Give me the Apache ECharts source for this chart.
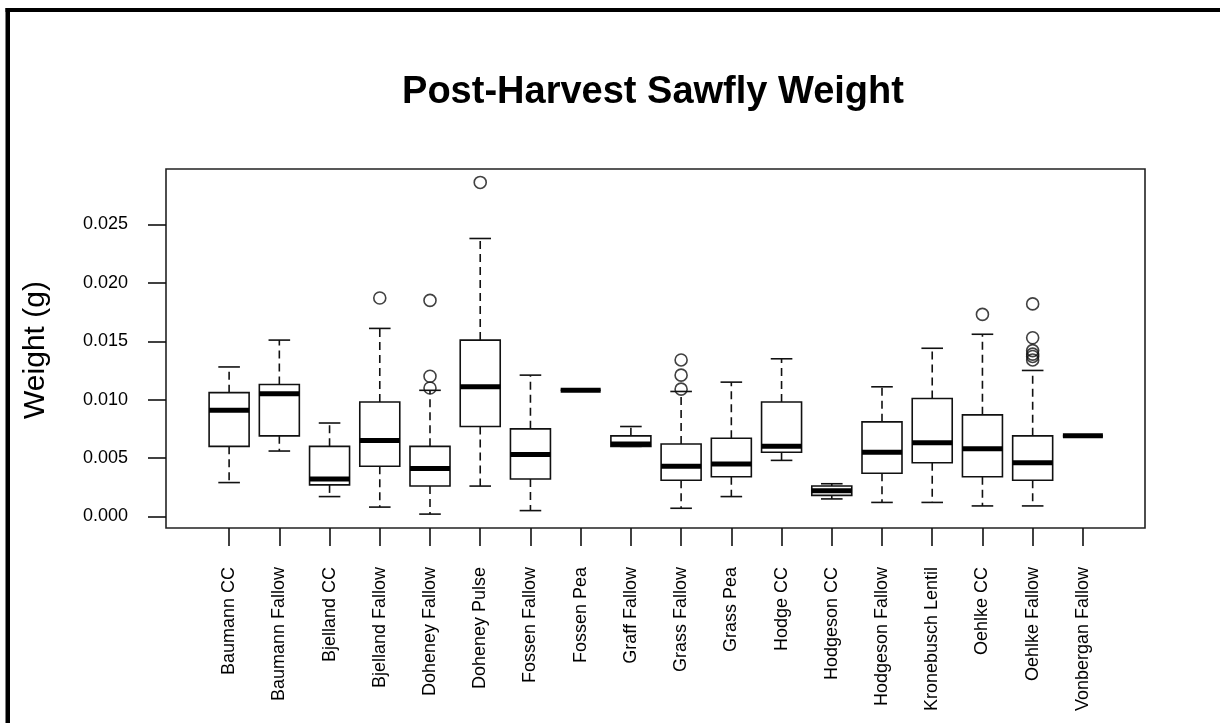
<!DOCTYPE html>
<html>
<head>
<meta charset="utf-8">
<script src="https://cdn.jsdelivr.net/npm/echarts@6/dist/echarts.min.js"></script>
<style>
html,body{margin:0;padding:0;background:#fff;}
#chart{width:1220px;height:723px;}
</style>
</head>
<body>
<div id="chart"></div>
<script>
// ---- data (grams) ----
const categories = ["Baumann CC","Baumann Fallow","Bjelland CC","Bjelland Fallow","Doheney Fallow","Doheney Pulse","Fossen Fallow","Fossen Pea","Graff Fallow","Grass Fallow","Grass Pea","Hodge CC","Hodgeson CC","Hodgeson Fallow","Kronebusch Lentil","Oehlke CC","Oehlke Fallow","Vonbergan Fallow"];
const lowWhisker  = [0.0029,0.0056,0.0017,0.0008,0.0002,0.0026,0.0005,0.0108,0.0060,0.0007,0.0017,0.0048,0.0015,0.0012,0.0012,0.0009,0.0009,0.0069];
const q1          = [0.0060,0.0069,0.0027,0.0043,0.0026,0.0077,0.0032,0.0108,0.0060,0.0031,0.0034,0.0055,0.0018,0.0037,0.0046,0.0034,0.0031,0.0069];
const median      = [0.0091,0.0105,0.0032,0.0065,0.0041,0.0111,0.0053,0.0108,0.0062,0.0043,0.0045,0.0060,0.0022,0.0055,0.0063,0.0058,0.0046,0.0069];
const q3          = [0.0106,0.0113,0.0060,0.0098,0.0060,0.0151,0.0075,0.0108,0.0069,0.0062,0.0067,0.0098,0.0026,0.0081,0.0101,0.0087,0.0069,0.0069];
const highWhisker = [0.0128,0.0151,0.0080,0.0161,0.0108,0.0238,0.0121,0.0108,0.0077,0.0107,0.0115,0.0135,0.0028,0.0111,0.0144,0.0156,0.0125,0.0069];
const outlierCategory = ["Bjelland Fallow","Doheney Fallow","Doheney Fallow","Doheney Fallow","Doheney Pulse","Grass Fallow","Grass Fallow","Grass Fallow","Oehlke CC","Oehlke Fallow","Oehlke Fallow","Oehlke Fallow","Oehlke Fallow","Oehlke Fallow","Oehlke Fallow"];
const outlierValue    = [0.0187,0.0185,0.0120,0.0110,0.0286,0.0134,0.0121,0.0109,0.0173,0.0182,0.0153,0.0142,0.0139,0.0137,0.0134];
const yTickValues = [0, 0.005, 0.010, 0.015, 0.020, 0.025];
const yMin = -0.00099, yMax = 0.02975;

const boxData = categories.map((c, i) => [i, lowWhisker[i], q1[i], median[i], q3[i], highWhisker[i]]);
const outlierData = outlierCategory.map((c, i) => [c, outlierValue[i]]);

const FONT = "'Liberation Sans', Arial, sans-serif";
const chart = echarts.init(document.getElementById('chart'), null, {renderer: 'canvas'});

function renderBox(params, api) {
  const x = api.value(0);
  const lo = api.coord([x, api.value(1)]);
  const a = api.coord([x, api.value(2)]);
  const m = api.coord([x, api.value(3)]);
  const b = api.coord([x, api.value(4)]);
  const hi = api.coord([x, api.value(5)]);
  const cx = lo[0], half = 20, cap = 10.8;
  const solid = {stroke: '#111', lineWidth: 1.6, fill: null};
  const dashed = {stroke: '#111', lineWidth: 1.6, lineDash: [8, 5], fill: null};
  return {
    type: 'group',
    children: [
      {type: 'line', shape: {x1: cx, y1: b[1], x2: cx, y2: hi[1]}, style: dashed},
      {type: 'line', shape: {x1: cx, y1: a[1], x2: cx, y2: lo[1]}, style: dashed},
      {type: 'line', shape: {x1: cx - cap, y1: hi[1], x2: cx + cap, y2: hi[1]}, style: solid},
      {type: 'line', shape: {x1: cx - cap, y1: lo[1], x2: cx + cap, y2: lo[1]}, style: solid},
      {type: 'rect', shape: {x: cx - half, y: b[1], width: 2 * half, height: a[1] - b[1]}, style: {stroke: '#111', lineWidth: 1.6, fill: '#fff'}},
      {type: 'line', shape: {x1: cx - half, y1: m[1], x2: cx + half, y2: m[1]}, style: {stroke: '#000', lineWidth: 5}}
    ]
  };
}

chart.setOption({
  animation: false,
  backgroundColor: '#fff',
  grid: [
    {left: 166, top: 169, width: 979, height: 359, show: true, borderColor: '#222', borderWidth: 1.6, backgroundColor: 'transparent'},
    {left: 204, top: 169, width: 904, height: 359}
  ],
  xAxis: [
    {gridIndex: 0, type: 'value', min: 0, max: 1, show: false},
    {gridIndex: 1, type: 'category', data: categories, boundaryGap: true,
     axisLine: {show: false, onZero: false},
     axisTick: {show: true, inside: false, alignWithLabel: true, length: 18, lineStyle: {color: '#111', width: 1.6}},
     axisLabel: {rotate: 90, interval: 0, margin: 39, fontSize: 18, color: '#000', fontFamily: FONT},
     splitLine: {show: false}}
  ],
  yAxis: [
    {gridIndex: 0, type: 'value', min: yMin, max: yMax,
     axisLine: {show: false},
     axisTick: {show: true, customValues: yTickValues, length: 18, lineStyle: {color: '#111', width: 1.6}},
     axisLabel: {customValues: yTickValues, formatter: v => v.toFixed(3), margin: 38, fontSize: 18, color: '#000', fontFamily: FONT},
     splitLine: {show: false}},
    {gridIndex: 1, type: 'value', min: yMin, max: yMax, show: false, splitLine: {show: false}}
  ],
  series: [
    {type: 'custom', name: 'Weight', xAxisIndex: 1, yAxisIndex: 1, data: boxData,
     encode: {x: 0, y: [1, 2, 3, 4, 5]}, renderItem: renderBox, z: 2},
    {type: 'scatter', name: 'Outliers', xAxisIndex: 1, yAxisIndex: 1, data: outlierData,
     symbol: 'circle', symbolSize: 12,
     itemStyle: {color: 'transparent', borderColor: '#111', borderWidth: 1.6}, z: 3}
  ],
  graphic: [
    {type: 'rect', shape: {x: 5.5, y: 8, width: 4.5, height: 715}, style: {fill: '#000'}},
    {type: 'rect', shape: {x: 5.5, y: 8, width: 1214.5, height: 4}, style: {fill: '#000'}},
    {type: 'text', x: 653, y: 93, style: {text: 'Post-Harvest Sawfly Weight', font: 'bold 38px ' + FONT, fill: '#000', align: 'center', verticalAlign: 'middle'}},
    {type: 'text', x: 36, y: 350, rotation: Math.PI / 2, style: {text: 'Weight (g)', font: '30px ' + FONT, fill: '#000', align: 'center', verticalAlign: 'middle'}}
  ]
});
</script>
</body>
</html>
